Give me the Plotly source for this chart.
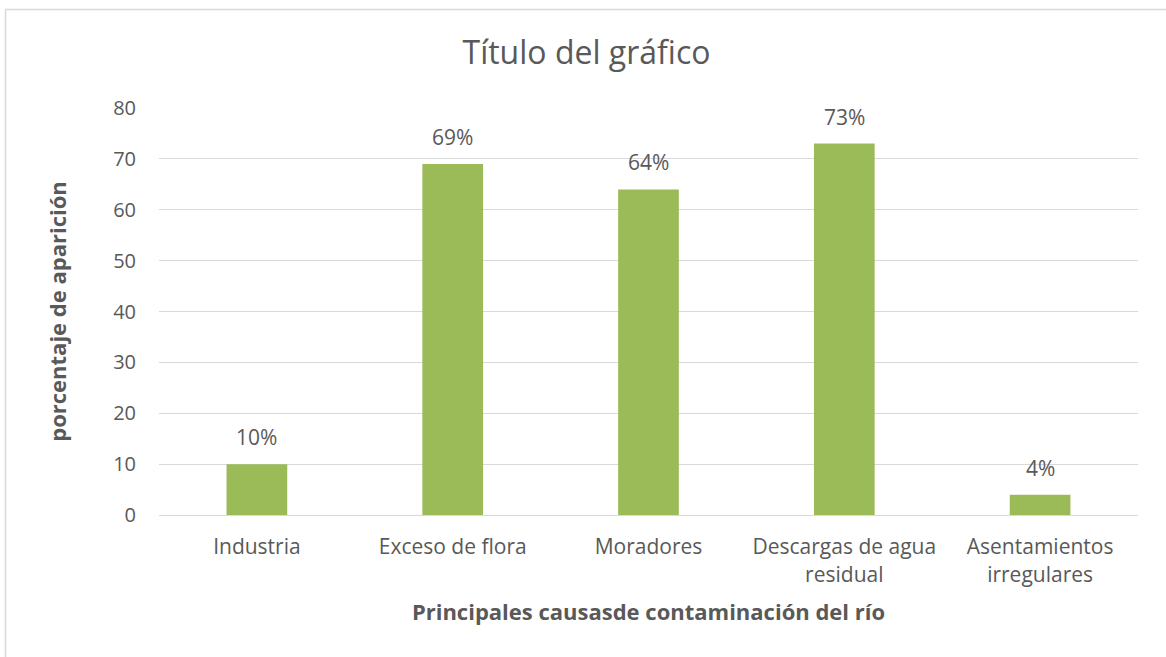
import plotly.graph_objects as go

categories = ["Industria", "Exceso de flora", "Moradores", "Descargas de agua<br>residual", "Asentamientos<br>irregulares"]
values = [10, 69, 64, 73, 4]
labels = ["10%", "69%", "64%", "73%", "4%"]
y_ticks = [0, 10, 20, 30, 40, 50, 60, 70, 80]

TEXT = "#595959"
GRID = "#D9D9D9"
FONT = "Open Sans"

fig = go.Figure()
fig.add_trace(go.Bar(
    x=categories, y=values,
    marker=dict(color="#9BBB59", line=dict(width=0)),
    hoverinfo="skip",
))

for c, v, t in zip(categories, values, labels):
    fig.add_annotation(x=c, y=v, text=t, showarrow=False, yanchor="bottom",
                       yshift=11, font=dict(family=FONT, size=21, color=TEXT))

fig.update_layout(
    width=1166, height=657,
    paper_bgcolor="white", plot_bgcolor="white",
    margin=dict(l=159, r=28, t=108, b=142),
    bargap=0.69,
    showlegend=False,
    title=dict(text="Título del gráfico", x=0.503, xanchor="center", xref="container",
               y=1 - 53 / 657, yref="container", yanchor="middle",
               font=dict(family=FONT, size=32, color=TEXT)),
    font=dict(family=FONT, color=TEXT),
    xaxis=dict(
        showgrid=False, showline=False, zeroline=False,
        ticks="outside", ticklen=13, tickcolor="rgba(0,0,0,0)",
        tickfont=dict(family=FONT, size=21, color=TEXT),
        title=dict(text="<b>Principales causasde contaminación del río</b>",
                   font=dict(family=FONT, size=22, color=TEXT), standoff=18),
    ),
    yaxis=dict(
        range=[0, 80], tickvals=y_ticks,
        showgrid=True, gridcolor=GRID, gridwidth=1,
        zeroline=True, zerolinecolor=GRID, zerolinewidth=1,
        showline=False,
        ticks="outside", ticklen=18, tickcolor="rgba(0,0,0,0)",
        tickfont=dict(family=FONT, size=20, color=TEXT),
        title=dict(text="<b>porcentaje de aparición</b>",
                   font=dict(family=FONT, size=22, color=TEXT), standoff=40),
    ),
    shapes=[
        dict(type="line", xref="paper", yref="paper",
             x0=(5.5 - 159) / 979, x1=(1166 - 159) / 979,
             y0=(515 - 9.5) / 407, y1=(515 - 9.5) / 407,
             line=dict(color=GRID, width=1.5)),
        dict(type="line", xref="paper", yref="paper",
             x0=(5.5 - 159) / 979, x1=(5.5 - 159) / 979,
             y0=(515 - 9.5) / 407, y1=(515 - 657) / 407,
             line=dict(color=GRID, width=1.5)),
    ],
)

fig.write_html("out.html", config={"displayModeBar": False},
               post_script="document.body.style.margin='0';document.body.style.overflow='hidden';")
